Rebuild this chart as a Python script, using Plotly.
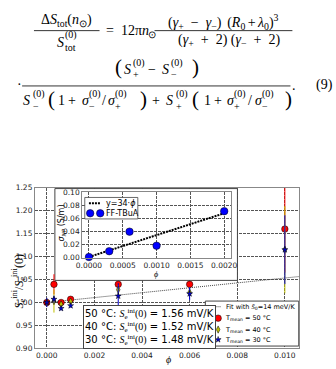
import plotly.graph_objects as go

W, H = 336, 369
SERIF = "Liberation Serif"
SANS = "DejaVu Sans"

# ---------------- data ----------------
phi = [0.0, 0.0003, 0.0006, 0.001, 0.003, 0.006, 0.010]
s50 = [1.000, 1.0395, 1.000, 1.007, 1.0395, 1.0395, 1.160]
e50 = [0.008, 0.022, 0.004, 0.004, 0.004, 0.004, 0.095]
s40 = [1.000, 1.003, 0.996, 1.002, 1.028, 1.022, 1.115]
e40 = [0.008, 0.025, 0.004, 0.004, 0.010, 0.008, 0.095]
s30 = [1.000, 1.007, 0.987, 0.993, 1.014, 1.019, 1.115]
e30 = [0.010, 0.008, 0.004, 0.004, 0.028, 0.014, 0.075]
fit_phi = [0.0, 0.0106]
fit_val = [1.000, 1.0565]

phi_in = [0.0, 0.0003, 0.0006, 0.001, 0.002]
sig_np = [0.0, 0.009, 0.0394, 0.0176, 0.0712]
fit_in_phi = [0.0, 0.002]
fit_in_val = [0.0, 0.068]

x_ticks = [0.000, 0.002, 0.004, 0.006, 0.008, 0.010]
x_text = ["0.000", "0.002", "0.004", "0.006", "0.008", "0.010"]
y_ticks = [0.90, 0.95, 1.00, 1.05, 1.10, 1.15, 1.20, 1.25]
y_text = ["0.90", "0.95", "1.00", "1.05", "1.10", "1.15", "1.20", "1.25"]
xi_ticks = [0.0, 0.0005, 0.0010, 0.0015, 0.0020]
xi_text = ["0.0000", "0.0005", "0.0010", "0.0015", "0.0020"]
yi_ticks = [0.0, 0.02, 0.04, 0.06, 0.08, 0.10]
yi_text = ["0.00", "0.02", "0.04", "0.06", "0.08", "0.10"]

temps = ["50", "40", "30"]
s_ini = ["1.56", "1.52", "1.48"]
colors = ["#ff0000", "#bfbf00", "#0000d0"]
symbols = ["circle", "diamond-tall", "star"]
sizes = [6.5, 5.2, 4.5]

# ---------------- geometry (pixels) ----------------
ML, MR, MT, MB = 30, 304, 188.3, 353
XR, YR = [-0.0005, 0.0106], [0.90, 1.25]
IL, IR, IT, IB = 79, 233.3, 192.7, 260
IXR, IYR = [-0.0001, 0.0021], [-0.001, 0.101]


def mx(p): return XR[0] + (p - ML) / (MR - ML) * (XR[1] - XR[0])
def my(p): return YR[1] - (p - MT) / (MB - MT) * (YR[1] - YR[0])
def ix(p): return IXR[0] + (p - IL) / (IR - IL) * (IXR[1] - IXR[0])
def iy(p): return IYR[1] - (p - IT) / (IB - IT) * (IYR[1] - IYR[0])


fig = go.Figure()

# inset background box (covers main grid)
bx0, bx1, by0, by1 = mx(50.7), mx(240), my(189.2), my(283.3)
fig.add_trace(go.Scatter(x=[bx0, bx1, bx1, bx0, bx0], y=[by0, by0, by1, by1, by0],
                         mode="lines", fill="toself", fillcolor="white",
                         line=dict(color="#444", width=1), hoverinfo="skip"))
# legend box
lx0, lx1, ly0, ly1 = mx(206.7), mx(303.6), my(304.5), my(350.6)
fig.add_trace(go.Scatter(x=[lx0, lx1, lx1, lx0, lx0], y=[ly0, ly0, ly1, ly1, ly0],
                         mode="lines", fill="toself", fillcolor="white",
                         line=dict(color="#444", width=1), hoverinfo="skip"))

# fit line
fig.add_trace(go.Scatter(x=fit_phi, y=fit_val, mode="lines",
                         line=dict(color="#444", width=1, dash="1px,1px")))

for vals, errs, c, sym, sz in zip([s50, s40, s30], [e50, e40, e30], colors, symbols, sizes):
    fig.add_trace(go.Scatter(
        x=phi, y=vals, mode="markers",
        marker=dict(symbol=sym, size=sz, color=c, line=dict(color="black", width=0.5)),
        error_y=dict(type="data", array=errs, color=c, thickness=1, width=0)))

# legend samples
fig.add_trace(go.Scatter(x=[mx(209), mx(223)], y=[my(310.3)] * 2, mode="lines",
                         line=dict(color="#444", width=1, dash="1px,1px")))
for ry, c, sym, sz in zip([322, 333.7, 344], colors, symbols, sizes):
    fig.add_trace(go.Scatter(x=[mx(211), mx(220)], y=[my(ry)] * 2, mode="markers",
                             marker=dict(symbol=sym, size=sz, color=c,
                                         line=dict(color="black", width=0.5))))

# ---------------- inset ----------------
ilx0, ilx1, ily0, ily1 = ix(81.7), ix(136.7), iy(198.3), iy(220.3)
fig.add_trace(go.Scatter(x=[ilx0, ilx1, ilx1, ilx0, ilx0], y=[ily0, ily0, ily1, ily1, ily0],
                         mode="lines", fill="toself", fillcolor="white",
                         line=dict(color="#444", width=0.8), xaxis="x2", yaxis="y2"))
fig.add_trace(go.Scatter(x=fit_in_phi, y=fit_in_val, mode="lines", xaxis="x2", yaxis="y2",
                         line=dict(color="black", width=2, dash="2px,1px")))
fig.add_trace(go.Scatter(x=phi_in, y=sig_np, mode="markers", xaxis="x2", yaxis="y2",
                         cliponaxis=False,
                         marker=dict(size=7.5, color="#0000ff", line=dict(color="black", width=0.5))))
fig.add_trace(go.Scatter(x=[ix(86), ix(98)], y=[iy(204.3)] * 2, mode="lines", xaxis="x2", yaxis="y2",
                         line=dict(color="black", width=2, dash="2px,1px")))
fig.add_trace(go.Scatter(x=[ix(87.3), ix(97.7)], y=[iy(214.5)] * 2, mode="markers",
                         xaxis="x2", yaxis="y2",
                         marker=dict(size=7.5, color="#0000ff", line=dict(color="black", width=0.5))))

# ---------------- annotations ----------------
ann = []
shapes = []


def txt(x, yc, s, size, family=SERIF, anchor="left", color="black", angle=0):
    ann.append(dict(x=x / W, y=1 - yc / H, xref="paper", yref="paper", text=s,
                    showarrow=False, xanchor=anchor, yanchor="middle", textangle=angle,
                    font=dict(size=size, family=family, color=color),
                    borderpad=0, borderwidth=0))


def mtxt(x, base, s, size, **kw):
    txt(x, base - 0.3375 * size, s, size, **kw)


def bar(x0, x1, y):
    shapes.append(dict(type="line", xref="paper", yref="paper", x0=x0 / W, x1=x1 / W,
                       y0=1 - y / H, y1=1 - y / H, line=dict(color="black", width=0.8)))


M, SS, PS = 14, 10, 21
EN, QS, SX = "\u2002", "\u2005", "\u2006"


def paren(x, gc, ch):
    txt(x, gc - 0.1025 * PS, ch, PS)


# line 1
mtxt(63, 22, "Δ<i>S</i><sub>tot</sub>(<i>n</i><sub>⊙</sub>)", M, anchor="center")
bar(29, 97, 27.3)
mtxt(53, 44.5, "<i>S</i>", M)
mtxt(61, 35.5, "(0)", SS)
mtxt(61, 48, "tot", SS)
mtxt(104, 32, "=", M)
mtxt(119, 32, "12π<i>n</i>", M)
mtxt(147.5, 34.5, "⊙", SS)
mtxt(225.5, 23, f"(<i>γ</i><sub>+</sub>{EN}−{EN}<i>γ</i><sub>−</sub>){QS}{SX}(<i>R</i><sub>0</sub>{SX}+{SX}<i>λ</i><sub>0</sub>)<sup>3</sup>",
     M, anchor="center")
bar(154, 297, 27.3)
mtxt(231, 42.5, f"(<i>γ</i><sub>+</sub>{EN}+{EN}2){QS}(<i>γ</i><sub>−</sub>{EN}+{EN}2)", M, anchor="center")

# line 2
mtxt(11, 87.5, "·", M)
paren(113, 67, "(")
mtxt(122, 72, "<i>S</i>", M)
mtxt(131.5, 63.5, "(0)", SS)
mtxt(131.5, 76, "+", SS)
mtxt(147, 72, "−", M)
mtxt(162, 72, "<i>S</i>", M)
mtxt(171.5, 63.5, "(0)", SS)
mtxt(171.5, 76, "−", SS)
paren(193, 67, ")")
bar(16.7, 295, 84)


def Sterm(x, sub):
    mtxt(x, 104, "<i>S</i>", M)
    mtxt(x + 10, 95.5, "(0)", SS)
    mtxt(x + 10, 108.5, sub, SS)


def sig(x, sub):
    mtxt(x, 104, "<i>σ</i>", M)
    mtxt(x + 7.5, 95.5, "(0)", SS)
    mtxt(x + 7.5, 108.5, sub, SS)


Sterm(18, "−")
paren(44, 100, "(")
mtxt(54, 104, "1", M)
mtxt(64, 104, "+", M)
sig(79, "−")
mtxt(100, 104, "/", M)
sig(106, "+")
paren(139, 100, ")")
mtxt(151, 104, "+", M)
Sterm(166, "+")
paren(193, 100, "(")
mtxt(205, 104, "1", M)
mtxt(216, 104, "+", M)
sig(229, "+")
mtxt(251, 104, "/", M)
sig(258, "−")
paren(289, 100, ")")
mtxt(297, 88, ".", M)
mtxt(321, 88, "(9)", M)

# axis titles
txt(13, 285, "<i>S</i><sub>e</sub><sup>ini</sup>/<i>S</i><sub>e</sub><sup>ini</sup>(0)", 12,
    anchor="center", angle=-90)
txt(168, 364, "<i>ϕ</i>", 10, anchor="center")
txt(58, 224, "<i>σ</i><sub><i>NP</i></sub> (S/m)", 8, family=SANS, anchor="center", angle=-90)
txt(156, 277, "<i>ϕ</i>", 8, anchor="center")

# inset legend text
txt(104, 204.3, "y=34·<i>ϕ</i>", 8, family=SANS)
txt(104, 214.5, "FF-TBuA", 8, family=SANS)

# main legend text
txt(228, 310.3, "Fit with <span style=\"font-family:Liberation Serif\"><i>S̄</i></span><sub>0</sub>=14 meV/K",
    6.5, family=SANS)
for ry, t in zip([322, 333.7, 344], temps):
    txt(227.5, ry, f"T<sub>mean</sub> = {t} °C", 6.5, family=SANS)

# text box
lines = [f"{t} °C: <span style=\"font-family:Liberation Serif\"><i>S</i><sub>e</sub><sup>ini</sup>(0)</span> = {v} mV/K"
         for t, v in zip(temps, s_ini)]
ann.append(dict(x=80 / W, y=1 - 308.3 / H, xref="paper", yref="paper", text="<br>".join(lines),
                showarrow=False, xanchor="left", yanchor="top", align="left",
                font=dict(size=10, family=SANS, color="black"),
                bgcolor="white", bordercolor="#444", borderwidth=1, borderpad=1))

axis_common = dict(showgrid=True, gridcolor="#555", gridwidth=0.7, griddash="3px,1px",
                   showline=True, mirror=True, linecolor="#888", linewidth=1,
                   zeroline=False, ticks="", tickfont=dict(size=7.5, family=SANS, color="#222"))

fig.update_layout(
    width=W, height=H, margin=dict(l=0, r=0, t=0, b=0),
    paper_bgcolor="white", plot_bgcolor="white", showlegend=False,
    xaxis=dict(domain=[ML / W, MR / W], range=XR, tickvals=x_ticks, ticktext=x_text,
               anchor="y", **axis_common),
    yaxis=dict(domain=[1 - MB / H, 1 - MT / H], range=YR, tickvals=y_ticks, ticktext=y_text,
               anchor="x", **axis_common),
    xaxis2=dict(domain=[IL / W, IR / W], range=IXR, tickvals=xi_ticks, ticktext=xi_text,
                anchor="y2", **axis_common),
    yaxis2=dict(domain=[1 - IB / H, 1 - IT / H], range=IYR, tickvals=yi_ticks, ticktext=yi_text,
                anchor="x2", **axis_common),
    annotations=ann, shapes=shapes,
)

fig.write_html("out.html")
